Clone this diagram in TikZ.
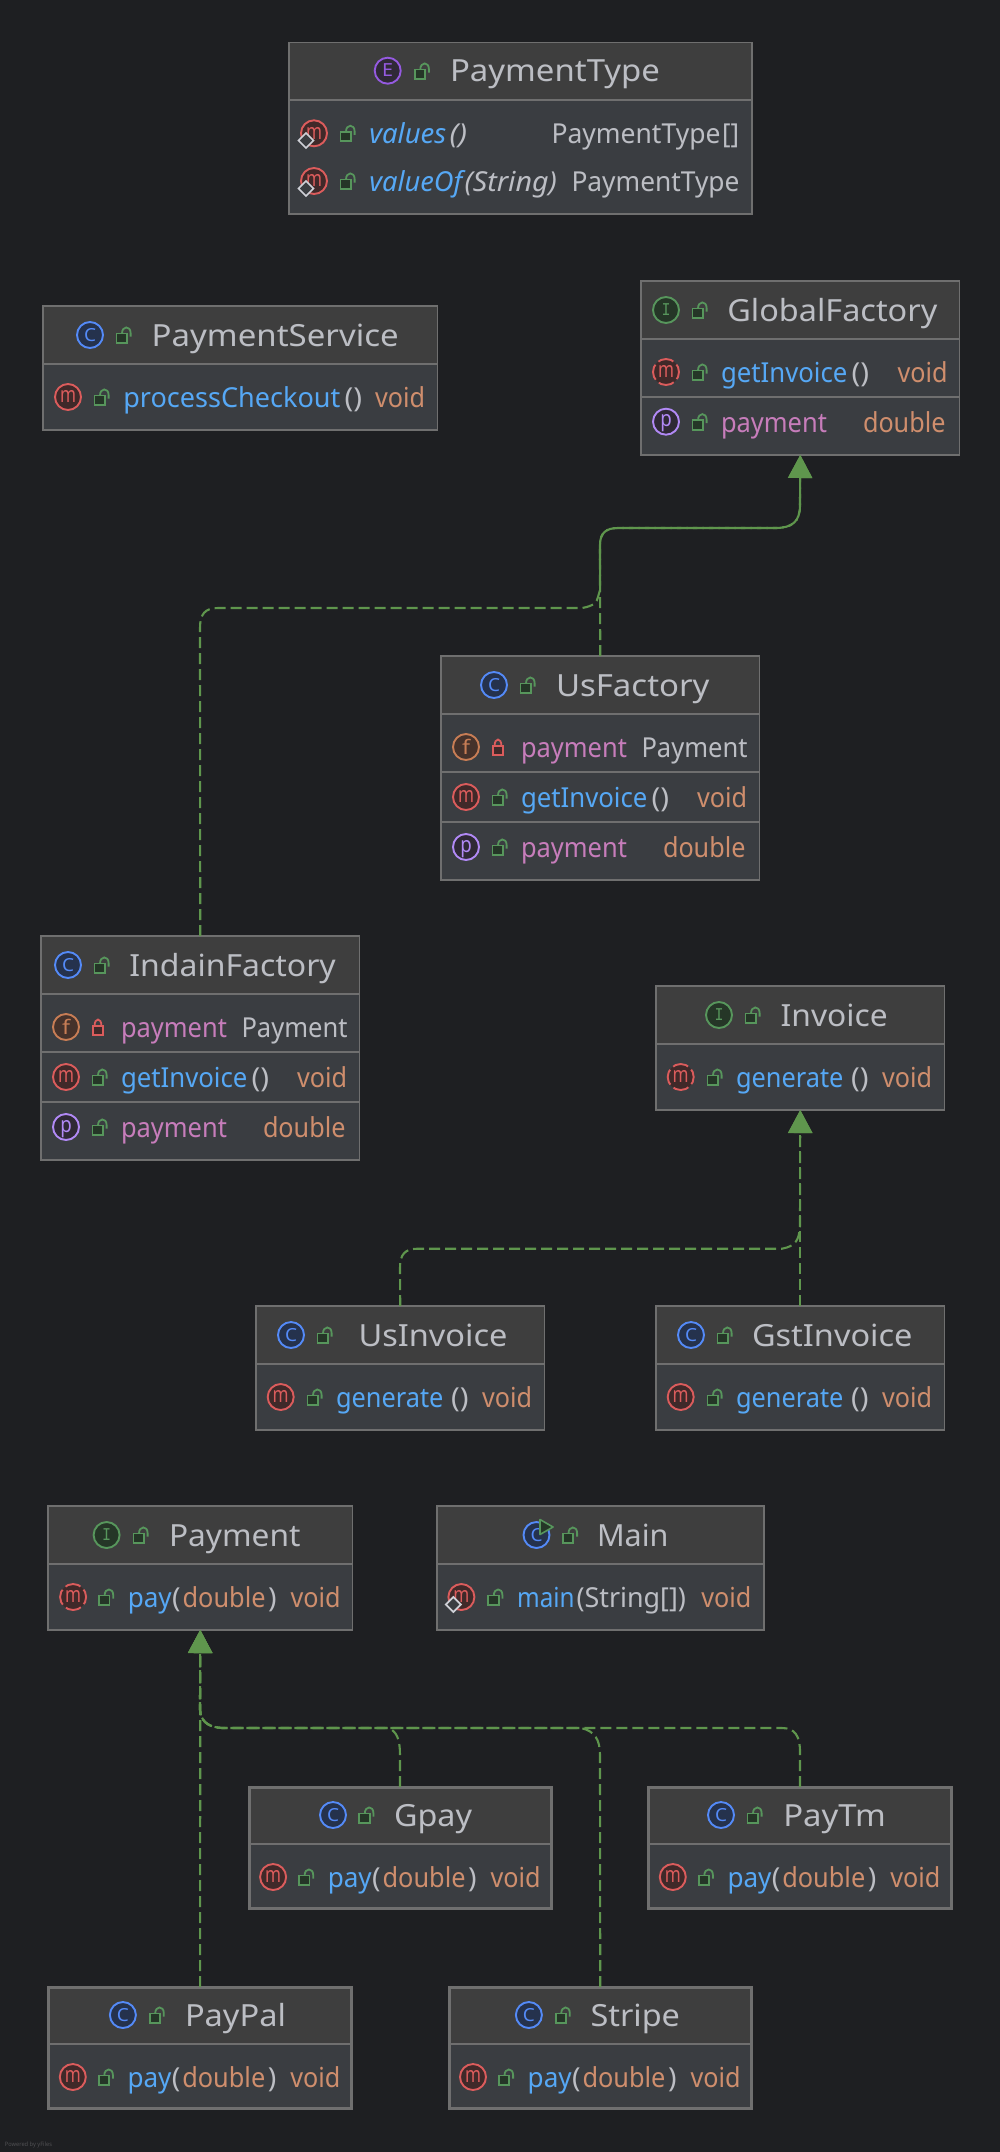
\documentclass[tikz,border=0pt]{standalone}
\usepackage{fontspec}
\usepackage{graphicx}
\usetikzlibrary{arrows.meta}
\setmainfont{Noto Sans}
\newfontfamily\monof{Liberation Mono}
\definecolor{bgc}{HTML}{1E1F22}
\definecolor{bodyc}{HTML}{3A3D41}
\definecolor{headc}{HTML}{3E3E3E}
\definecolor{edgec}{HTML}{6F6F6F}
\definecolor{txtc}{HTML}{BCBEC4}
\definecolor{bluec}{HTML}{56A8F5}
\definecolor{orc}{HTML}{CF8E6D}
\definecolor{pinkc}{HTML}{C77DBB}
\definecolor{linkc}{HTML}{5F964D}
\definecolor{ccl}{HTML}{548AF7}\definecolor{ccf}{HTML}{25324D}
\definecolor{cif}{HTML}{253627}\definecolor{cgr}{HTML}{57965C}
\definecolor{cmr}{HTML}{DB5C5C}\definecolor{cmf}{HTML}{402929}
\definecolor{cfo}{HTML}{C77D55}\definecolor{cff}{HTML}{45322B}
\definecolor{cpp}{HTML}{B189F5}\definecolor{cpf}{HTML}{2F2936}
\definecolor{cen}{HTML}{955AE0}
\definecolor{statc}{HTML}{CED0D6}
\newsavebox\tbox
\newcounter{nn}
\newcommand\fitx[2]{\sbox\tbox{#2}\pgfmathsetmacro\fitr{#1/(\the\wd\tbox)}\scalebox{\fitr}[1]{\usebox\tbox}}
% x, baseline, width, colour, text
\newcommand\tx[5]{\stepcounter{nn}\node[anchor=base west,inner sep=0pt,outer sep=0pt,text=#4] (t\thenn) at (#1,#2) {\fitx{#3}{\rowfont #5}};}
\newcommand\rowfont{\fontsize{27.5}{30}\selectfont}
\newcommand\ttl[4]{\stepcounter{nn}\node[anchor=base west,inner sep=0pt,outer sep=0pt,text=txtc] (t\thenn) at (#1,#2) {\fitx{#3}{\fontsize{30.5}{33}\selectfont #4}};}
% icon: x, y, ring, fill, extra, letter colour, baseline offset, letter width, letter
\newcommand\ring[9]{\stepcounter{nn}\node[circle,inner sep=0pt,outer sep=0pt,minimum size=26pt,line width=1.9pt,draw=#3,fill=#4,#5] (r\thenn) at (#1,#2) {};
 \stepcounter{nn}\node[anchor=base,inner sep=0pt,outer sep=0pt,text=#6] (l\thenn) at (#1,#2+#7) {\fitx{#8}{#9}};}
\newcommand\fs[1]{\fontsize{#1}{#1}\selectfont}
\tikzset{absm/.style={dash pattern=on 16pt off 4.4pt,dash phase=8pt},
 lockline/.style={line width=1.8pt},
 conn/.style={draw=linkc,line width=2.1pt,dash pattern=on 11pt off 5pt},
 connto/.style={conn,-{Triangle[length=23pt,width=24pt,fill=linkc]}},
 thinbox/.style={draw=edgec,line width=1.6pt},
 selbox/.style={draw=edgec,line width=3pt},
 divline/.style={draw=edgec,line width=1.8pt}}
\newcommand\Cico[2]{\ring{#1}{#2}{ccl}{ccf}{}{ccl}{6.2}{12}{\fs{18}C}}
\newcommand\Iico[2]{\ring{#1}{#2}{cgr}{cif}{}{cgr}{5.5}{9}{\monof\fs{18}I}}
\newcommand\Eico[2]{\ring{#1}{#2}{cen}{cpf}{}{cen}{6.2}{11}{\fs{18}E}}
\newcommand\Mico[2]{\ring{#1}{#2}{cmr}{cmf}{}{cmr}{5.8}{16}{\fs{22}m}}
\newcommand\Aico[2]{\ring{#1}{#2}{cmr}{cmf}{absm}{cmr}{5.8}{16}{\fs{22}m}}
\newcommand\Fico[2]{\ring{#1}{#2}{cfo}{cff}{}{cfo}{7}{8}{\fs{20}f}}
\newcommand\Pico[2]{\ring{#1}{#2}{cpp}{cpf}{}{cpp}{5}{11.5}{\fs{22}p}}
\newcommand\stat[2]{\draw[line width=1.7pt,draw=statc,fill=bodyc] (#1-15.5,#2+0.5) -- (#1-8,#2-7) -- (#1-0.5,#2+0.5) -- (#1-8,#2+8) -- cycle;}
\newcommand\lockO[2]{\begin{scope}[shift={(#1,#2)}]\draw[lockline,draw=cgr,fill=cif] (-7.6,-1.5) rectangle (2.8,8);\draw[lockline,draw=cgr] (-2,-1.5) .. controls (-2,-9.5) and (6.6,-9.5) .. (6.6,-2) -- (6.6,1.5);\end{scope}}
\newcommand\lockC[2]{\begin{scope}[shift={(#1,#2)}]\draw[lockline,draw=cmr,fill=cmf] (-5.3,-1.3) rectangle (5.3,8);\draw[lockline,draw=cmr] (-3.4,-1.3) .. controls (-3.4,-9.5) and (3.4,-9.5) .. (3.4,-1.3);\end{scope}}
% name, x1, y1, x2, y2, border style, divider list
\newcommand\ubox[7]{\node[inner sep=0pt,outer sep=0pt,fill=bodyc,minimum width={#4-#2},minimum height={#5-#3}] (#1) at ({(#2+#4)/2},{(#3+#5)/2}) {};
 \foreach \dy [count=\di] in {#7} {\ifnum\di=1\relax\fill[headc] (#1.north west) rectangle (#1.east |- 0,\dy);\fi}
 \foreach \dy in {#7} {\draw[divline] (#1.west |- 0,\dy) -- (#1.east |- 0,\dy);}
 \draw[#6] (#1.north west) rectangle (#1.south east);}
% pay row: left edge, icon y, icon macro
\newcommand\payrow[3]{#3{#1+25.5}{#2}\lockO{#1+59}{#2}
 \tx{#1+80.2}{#2+10.2}{44}{bluec}{pay}\tx{#1+124.5}{#2+10.2}{8.5}{txtc}{\bfseries(}\tx{#1+135}{#2+10.2}{83}{orc}{double}\tx{#1+220.5}{#2+10.2}{8.5}{txtc}{\bfseries)}\tx{#1+243}{#2+10.2}{50}{orc}{void}}
% factory rows: dx, dy
\newcommand\facrows[2]{\Fico{466+#1}{747+#2}\lockC{498+#1}{747+#2}
 \tx{521+#1}{757+#2}{106}{pinkc}{payment}\tx{641.5+#1}{757+#2}{106}{txtc}{Payment}
 \Mico{466+#1}{797+#2}\lockO{500+#1}{797+#2}
 \tx{521+#1}{807+#2}{126.5}{bluec}{getInvoice}\tx{651.5+#1}{807+#2}{17.5}{txtc}{\bfseries()}\tx{697+#1}{807+#2}{50}{orc}{void}
 \Pico{466+#1}{847+#2}\lockO{500+#1}{847+#2}
 \tx{521+#1}{857+#2}{106}{pinkc}{payment}\tx{663+#1}{857+#2}{82.5}{orc}{double}}
\begin{document}
\begin{tikzpicture}[x=1pt,y=-1pt]
\useasboundingbox (0,0) rectangle (1000,2152);
\fill[bgc] (0,0) rectangle (1000,2152);
% ---- PaymentType
\ubox{paymenttype}{289.2}{42.4}{751.7}{214}{thinbox}{100}
\Eico{387.7}{70.7}\lockO{422.3}{71}\ttl{450}{81.7}{210}{PaymentType}
\Mico{314}{133.3}\stat{314}{140}\lockO{348}{133.3}
\tx{369.3}{143.3}{77}{bluec}{\itshape values}\tx{449.5}{143.3}{17.5}{txtc}{\bfseries\itshape ()}\tx{551.5}{143.3}{169}{txtc}{PaymentType}\tx{722}{143.3}{17}{txtc}{\bfseries[]}
\Mico{314}{181}\stat{314}{188}\lockO{348}{181}
\tx{369.3}{191.3}{93}{bluec}{\itshape valueOf}\tx{464.5}{191.3}{92.5}{txtc}{\itshape (String)}\tx{571.5}{191.3}{168}{txtc}{PaymentType}
% ---- PaymentService
\ubox{paymentservice}{43.2}{306.2}{437.3}{430}{thinbox}{364}
\Cico{90}{335}\lockO{124}{335}\ttl{151.7}{346.7}{247}{PaymentService}
\Mico{68}{397}\lockO{102}{397}
\tx{123.3}{407.5}{217}{bluec}{processCheckout}\tx{344.5}{407.5}{17.5}{txtc}{\bfseries()}\tx{375}{407.5}{50}{orc}{void}
% ---- GlobalFactory
\ubox{globalfactory}{641.2}{281.2}{959.3}{455}{thinbox}{339,397}
\Iico{666}{310}\lockO{700}{310}\ttl{727.3}{321}{210}{GlobalFactory}
\Aico{666}{372}\lockO{700}{372}
\tx{721}{382.5}{126.5}{bluec}{getInvoice}\tx{851.5}{382.5}{17.5}{txtc}{\bfseries()}\tx{897.5}{382.5}{50}{orc}{void}
\Pico{666}{421.7}\lockO{700}{421.7}
\tx{721}{432.5}{106}{pinkc}{payment}\tx{863}{432.5}{82.5}{orc}{double}
% ---- UsFactory
\ubox{usfactory}{441.2}{656.2}{759.3}{880}{thinbox}{713.7,772,822}
\Cico{494}{685}\lockO{528}{685}\ttl{556}{696}{153.5}{UsFactory}
\facrows{0}{0}
% ---- IndainFactory
\ubox{indainfactory}{41.2}{936.2}{359.3}{1160}{thinbox}{993.7,1052,1102}
\Cico{68}{965}\lockO{102}{965}\ttl{129.3}{976}{206.5}{IndainFactory}
\facrows{-400}{280}
% ---- Invoice
\ubox{invoice}{656.2}{986.2}{944.3}{1110}{thinbox}{1043.7}
\Iico{719}{1015}\lockO{753}{1015}\ttl{780.7}{1026.7}{107}{Invoice}
\Aico{680.7}{1077}\lockO{715}{1077}
\tx{736}{1087.5}{107.5}{bluec}{generate}\tx{851}{1087.5}{17.5}{txtc}{\bfseries()}\tx{882}{1087.5}{50}{orc}{void}
% ---- UsInvoice
\ubox{usinvoice}{256.2}{1306.2}{544.3}{1430}{thinbox}{1363.7}
\Cico{291}{1335}\lockO{325}{1335}\ttl{358.5}{1346.7}{149}{UsInvoice}
\Mico{280.7}{1397}\lockO{315}{1397}
\tx{336}{1407.5}{107.5}{bluec}{generate}\tx{451}{1407.5}{17.5}{txtc}{\bfseries()}\tx{482}{1407.5}{50}{orc}{void}
% ---- GstInvoice
\ubox{gstinvoice}{656.2}{1306.2}{944.3}{1430}{thinbox}{1363.7}
\Cico{691}{1335}\lockO{725}{1335}\ttl{752}{1346.7}{160.5}{GstInvoice}
\Mico{680.7}{1397}\lockO{715}{1397}
\tx{736}{1407.5}{107.5}{bluec}{generate}\tx{851}{1407.5}{17.5}{txtc}{\bfseries()}\tx{882}{1407.5}{50}{orc}{void}
% ---- Payment
\ubox{payment}{48.2}{1506.2}{352.3}{1630}{thinbox}{1563.7}
\Iico{106.6}{1535}\lockO{141}{1535}\ttl{169}{1546.7}{131.5}{Payment}
\payrow{47.6}{1597}{\Aico}
% ---- Main
\ubox{mainbox}{437.2}{1506.2}{763.7}{1630}{thinbox}{1563.7}
\Cico{536.5}{1535}\lockO{570.5}{1535}
\begin{scope}[shift={(536.5,1535)}]\draw[line width=1.6pt,draw=cgr,fill=cif,line join=round] (3.5,-15.5) -- (16.5,-8) -- (3.5,-0.5) -- cycle;\end{scope}
\ttl{597}{1546.7}{71.5}{Main}
\Mico{461.4}{1597}\stat{461.4}{1604}\lockO{495.8}{1597}
\tx{517.2}{1607.2}{57.5}{bluec}{main}\tx{576.5}{1607.2}{109.5}{txtc}{(String[])}\tx{701.3}{1607.2}{50}{orc}{void}
% ---- Gpay
\ubox{gpay}{249}{1787}{551}{1908.5}{selbox}{1843.7}
\Cico{333}{1815}\lockO{366.8}{1815}\ttl{394}{1826.7}{78}{Gpay}
\payrow{247.6}{1877}{\Mico}
% ---- PayTm
\ubox{paytm}{648.8}{1787}{951.2}{1908.5}{selbox}{1843.7}
\Cico{721}{1815}\lockO{755}{1815}\ttl{783.3}{1826.7}{102.5}{PayTm}
\payrow{647.3}{1877}{\Mico}
% ---- PayPal
\ubox{paypal}{48.8}{1987}{351.5}{2108.5}{selbox}{2043.7}
\Cico{122.9}{2015}\lockO{157.2}{2015}\ttl{185}{2026.7}{101}{PayPal}
\payrow{47.3}{2077}{\Mico}
% ---- Stripe
\ubox{stripe}{449.3}{1987}{751.2}{2108.5}{selbox}{2043.7}
\Cico{528.9}{2015}\lockO{563.2}{2015}\ttl{590.5}{2026.7}{89.5}{Stripe}
\payrow{447.5}{2077}{\Mico}
% ---- connectors
\draw[connto] (usfactory.north) -- (600,545) .. controls (600,533) and (606,528) .. (618,528) -- (775,528) .. controls (792,528) and (800,522) .. (800,505) -- (globalfactory.south);
\draw[connto] (indainfactory.north) -- (200,628) .. controls (200,614) and (205,608) .. (218,608) -- (582,608) .. controls (594,606) and (597,602) .. (598,597) -- (600,590) -- (600,545) .. controls (600,533) and (606,528) .. (618,528) -- (775,528) .. controls (792,528) and (800,522) .. (800,505) -- (globalfactory.south);
\draw[connto] (gstinvoice.north) -- (invoice.south);
\draw[connto] (usinvoice.north) -- (400,1268) .. controls (400,1254) and (405,1248.7) .. (418,1248.7) -- (782,1248.7) .. controls (796,1246) and (799,1240) .. (800,1226) -- (invoice.south);
\draw[connto] (paypal.north) -- (payment.south);
\draw[connto] (gpay.north) -- (400,1755) .. controls (400,1740) and (397,1731) .. (388,1728) -- (222,1728) .. controls (208,1727) and (204,1722) .. (201,1716) -- (200,1710) -- (payment.south);
\draw[connto] (stripe.north) -- (600,1755) .. controls (600,1740) and (595,1731) .. (581,1728) -- (222,1728) .. controls (208,1727) and (204,1722) .. (201,1716) -- (200,1710) -- (payment.south);
\draw[connto] (paytm.north) -- (800,1752) .. controls (800,1736) and (795,1728) .. (782,1728) -- (222,1728) .. controls (208,1727) and (204,1722) .. (201,1716) -- (200,1710) -- (payment.south);
% ---- footer
\node[anchor=base west,inner sep=0pt,outer sep=0pt,text=white!22!bgc] (yfiles) at (5,2146.5) {\fitx{47}{\fs{6}Powered by yFiles}};
\end{tikzpicture}
\end{document}
